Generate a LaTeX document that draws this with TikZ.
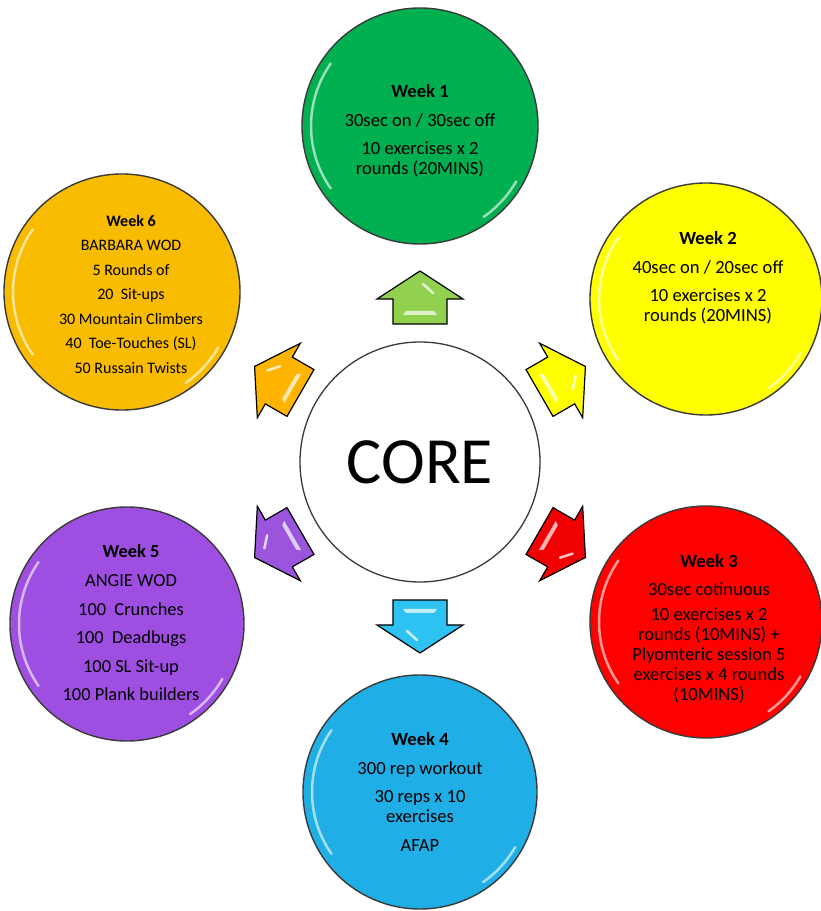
\documentclass[tikz,border=0pt]{standalone}
\usepackage{fontspec}
\setmainfont{Carlito}
\usetikzlibrary{calc}
\definecolor{cgreen}{HTML}{00B050}
\definecolor{cyellow}{HTML}{FFFF00}
\definecolor{cred}{HTML}{FF0000}
\definecolor{cblue}{HTML}{1FAEE6}
\definecolor{cpurple}{HTML}{9E4FE2}
\definecolor{corange}{HTML}{F9BC00}
\definecolor{agreen}{HTML}{92D050}
\definecolor{ayellow}{HTML}{FFFF00}
\definecolor{ared}{HTML}{F00000}
\definecolor{ablue}{HTML}{2EC2F2}
\definecolor{apurple}{HTML}{9A55DC}
\definecolor{aorange}{HTML}{FFB400}
\definecolor{rim}{HTML}{3A3A3A}
\tikzset{
  bubblestyle/.style={circle, draw=rim, line width=1.4pt, inner sep=0pt, outer sep=0pt},
  corestyle/.style={circle, draw=rim, line width=1.3pt, fill=white, inner sep=0pt,
    minimum size=240pt, font=\fontsize{66}{70}\selectfont},
  weektext/.style={align=center, text=black, font=\fontsize{18.6}{20}\selectfont},
  arrowbox/.style={draw=black, line width=1.2pt, line join=miter},
  shine/.style={white, opacity=.75, line width=2.5pt, line cap=round},
  rimshine/.style={white, opacity=.6, line width=2.5pt, line cap=round},
}
\newcommand\bubble[5]{% name, x, y, r, colour
  \node[bubblestyle, fill=#5, minimum size=2*#4pt] (#1) at (#2,#3) {};
  \draw[rimshine] ($(#1.center)+(145:#4-9)$) arc[start angle=145, end angle=215, radius=#4-9];
  \draw[rimshine] ($(#1.center)+(-55:#4-7)$) arc[start angle=-55, end angle=-30, radius=#4-7];
}
\newcommand\glossarrow[3]{% name, angle, colour
  \begin{scope}[shift={($(core.center)+(#2:164)$)}, rotate=#2]
    \coordinate (#1) at (0,0);
    \draw[arrowbox, fill=#3] (-26,-27) -- (-1,-27) -- (-1,-43) -- (27,0) -- (-1,43) -- (-1,27) -- (-26,27) -- cycle;
    \draw[shine] (14,-3) -- (5,-13);
    \fill[white, opacity=.7] (-17,-17) -- (-13,-14) -- (-13,14) -- (-17,17) -- cycle;
  \end{scope}}
\begin{document}
\begin{tikzpicture}[x=1pt, y=1pt]
\useasboundingbox (0,0) rectangle (820,911);
\fill[white] (0,0) rectangle (820,911);

\node[corestyle] (core) at (420,449) {CORE};

\bubble{c1}{420}{785}{118}{cgreen}
\bubble{c2}{706}{612}{116}{cyellow}
\bubble{c3}{706}{289}{116}{cred}
\bubble{c4}{420}{119}{117}{cblue}
\bubble{c5}{127}{287}{117}{cpurple}
\bubble{c6}{122}{619}{118}{corange}

\glossarrow{a1}{90}{agreen}
\glossarrow{a2}{30}{ayellow}
\glossarrow{a3}{-30}{ared}
\glossarrow{a4}{-90}{ablue}
\glossarrow{a5}{-150}{apurple}
\glossarrow{a6}{150}{aorange}

\node[weektext] (t1) at (420,780) {\textbf{Week 1}\\[8.5pt]30sec on / 30sec off\\[8.5pt]10 exercises x 2\\rounds (20MINS)};
\node[weektext] (t2) at (708,633) {\textbf{Week 2}\\[8.5pt]40sec on / 20sec off\\[8.5pt]10 exercises x 2\\rounds (20MINS)};
\node[weektext] (t3) at (709,282) {\textbf{Week 3}\\[8pt]30sec cotinuous\\[5pt]10 exercises x 2\\rounds (10MINS) +\\Plyomteric session 5\\exercises x 4 rounds\\(10MINS)};
\node[weektext] (t4) at (420,119) {\textbf{Week 4}\\[8.5pt]300 rep workout\\[8.5pt]30 reps x 10\\exercises\\[8.5pt]AFAP};
\node[weektext, font=\fontsize{18.4}{28.6}\selectfont] (t5) at (131,288) {\textbf{Week 5}\\ANGIE WOD\\100\ \ Crunches\\100\ \ Deadbugs\\100 SL Sit-up\\100 Plank builders};
\node[weektext, font=\fontsize{16}{24.5}\selectfont] (t6) at (131,617) {\textbf{Week 6}\\BARBARA WOD\\5 Rounds of\\20\ \ Sit-ups\\30 Mountain Climbers\\40\ \ Toe-Touches (SL)\\50 Russain Twists};
\end{tikzpicture}
\end{document}
